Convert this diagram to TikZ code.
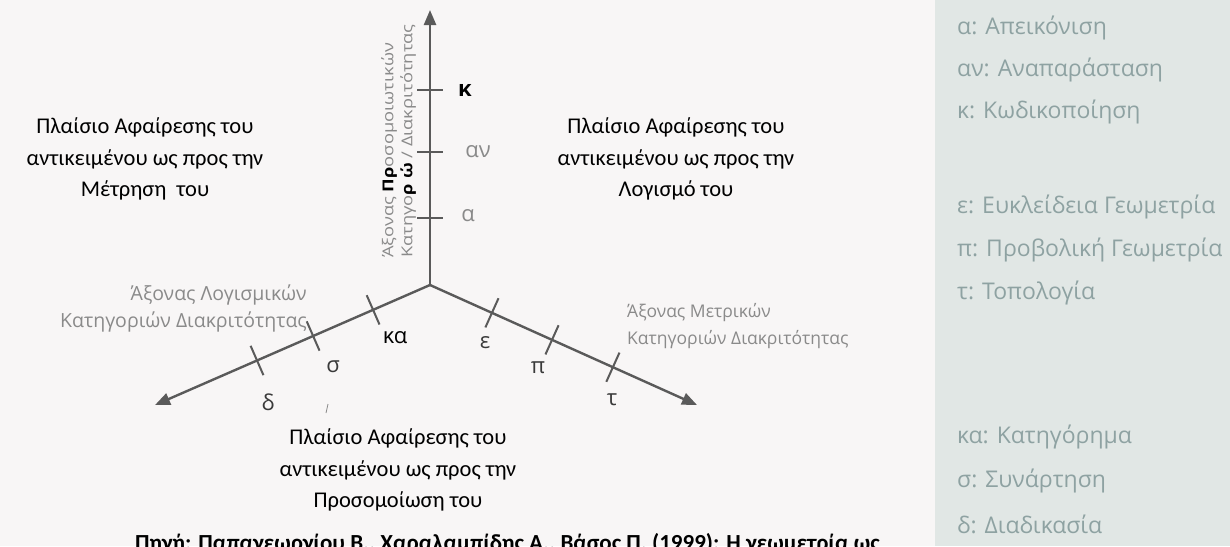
\documentclass[tikz,border=0pt]{standalone}
\usepackage{fontspec}
\setmainfont{Carlito}
\newfontfamily\hfont{Open Sans}
\usetikzlibrary{arrows.meta,calc}
\definecolor{bg}{HTML}{F8F6F6}
\definecolor{panel}{HTML}{E1E7E5}
\definecolor{legtxt}{HTML}{8EA2A2}
\definecolor{axiscol}{HTML}{5A5A5A}
\definecolor{labgray}{HTML}{8A8A8A}
\definecolor{tickdark}{HTML}{3A3A3A}
\begin{document}
\begin{tikzpicture}[x=1pt,y=-1pt,
  axis/.style={line width=2.4pt, draw=axiscol, -{Triangle[length=15pt,width=12pt]}},
  tickline/.style={line width=2pt, draw=axiscol},
  frametext/.style={align=center, font=\fontsize{22.5}{31.5}\selectfont, text=black, inner sep=0pt},
  ticklab/.style={font=\hfont\fontsize{22}{22}\selectfont, inner sep=0pt, text=tickdark},
  axlab/.style={font=\hfont\fontsize{17.5}{27}\selectfont, text=labgray, inner sep=0pt},
  vlab/.style={font=\hfont\fontsize{15}{15}\selectfont, text=labgray, inner sep=0pt, anchor=west, rotate=90, xscale=1.22},
  legend/.style={font=\hfont\fontsize{23}{23}\selectfont, text=legtxt, anchor=west, inner sep=0pt}]
\useasboundingbox (0,0) rectangle (1230,546);
\fill[bg] (0,0) rectangle (1230,546);
\fill[panel] (935,0) rectangle (1230,546);

% axes
\coordinate (O) at (430,285);
\coordinate (V) at (430,10);
\coordinate (L) at (155,405);
\coordinate (R) at (697,405);
\draw[axis] (O) -- (V);
\draw[axis] (O) -- (L);
\draw[axis] (O) -- (R);

% vertical ticks
\coordinate (tk) at (430,90);
\coordinate (tan) at (430,152);
\coordinate (ta) at (430,218);
\foreach \t in {tk,tan,ta}{
  \draw[tickline] ($(\t)+(-13,0)$) -- ($(\t)+(13,0)$);
}
% left ticks
\coordinate (tka) at ($(O)!0.207!(L)$);
\coordinate (ts) at ($(O)!0.425!(L)$);
\coordinate (td) at ($(O)!0.629!(L)$);
% right ticks
\coordinate (te) at ($(O)!0.232!(R)$);
\coordinate (tp) at ($(O)!0.457!(R)$);
\coordinate (tt) at ($(O)!0.685!(R)$);
\foreach \t in {tka,ts,td,te,tp,tt}{
  \draw[tickline] ($(\t)!16pt!90:(O)$) -- ($(\t)!16pt!-90:(O)$);
}

% tick labels
\node[ticklab, text=black] (lk) at (465,90) {\textbf{κ}};
\node[ticklab, text=labgray] (lan) at (478,152) {αν};
\node[ticklab, text=labgray] (la) at (468,216) {α};
\node[ticklab, text=black] (lka) at (395,338) {κα};
\node[ticklab] (ls) at (333,367) {σ};
\node[ticklab] (ld) at (268,402) {δ};
\node[ticklab] (le) at (485,343) {ε};
\node[ticklab] (lp) at (538,368) {π};
\node[ticklab] (lt) at (612,400) {τ};

% axis labels
\node[vlab] (va1) at (389,258) {Άξονας {\color{black}\bfseries Πρ}οσομοιωτικών};
\node[vlab] (va2) at (408,258) {Κατηγο{\color{black}\bfseries ρ ώ} / Διακριτότητας};
\node[axlab, font=\hfont\fontsize{19.5}{27}\selectfont, align=right, anchor=east] (la1) at (307,308) {Άξονας Λογισμικών\\Κατηγοριών Διακριτότητας};
\node[axlab, align=left, anchor=west] (ra1) at (627,326) {Άξονας Μετρικών\\Κατηγοριών Διακριτότητας};

% frame texts
\node[frametext] (fl) at (145,159) {Πλαίσιο Αφαίρεσης του\\αντικειμένου ως προς την\\Μέτρηση\ \ του};
\node[frametext] (fr) at (676,159) {Πλαίσιο Αφαίρεσης του\\αντικειμένου ως προς την\\Λογισμό του};
\node[frametext] (fb) at (398,470) {Πλαίσιο Αφαίρεσης του\\αντικειμένου ως προς την\\Προσομοίωση του};

% stray mark
\draw[labgray, line width=0.8pt] (328,404) -- (326,413);

% legend
\node[legend] (g1) at (957,28) {α: Απεικόνιση};
\node[legend] (g2) at (957,70) {αν: Αναπαράσταση};
\node[legend] (g3) at (957,112) {κ: Κωδικοποίηση};
\node[legend] (g4) at (957,207) {ε: Ευκλείδεια Γεωμετρία};
\node[legend] (g5) at (957,250) {π: Προβολική Γεωμετρία};
\node[legend] (g6) at (957,293) {τ: Τοπολογία};
\node[legend] (g7) at (957,437) {κα: Κατηγόρημα};
\node[legend] (g8) at (957,481) {σ: Συνάρτηση};
\node[legend] (g9) at (957,524) {δ: Διαδικασία};

% caption (cut off by the page edge, as in the reference)
\node[anchor=base west, inner sep=0pt, font=\fontsize{23}{23}\selectfont\bfseries] (cap) at (135,550) {Πηγή: Παπαγεωργίου Β., Χαραλαμπίδης Α., Βάσος Π. (1999): Η γεωμετρία ως};
\end{tikzpicture}
\end{document}
